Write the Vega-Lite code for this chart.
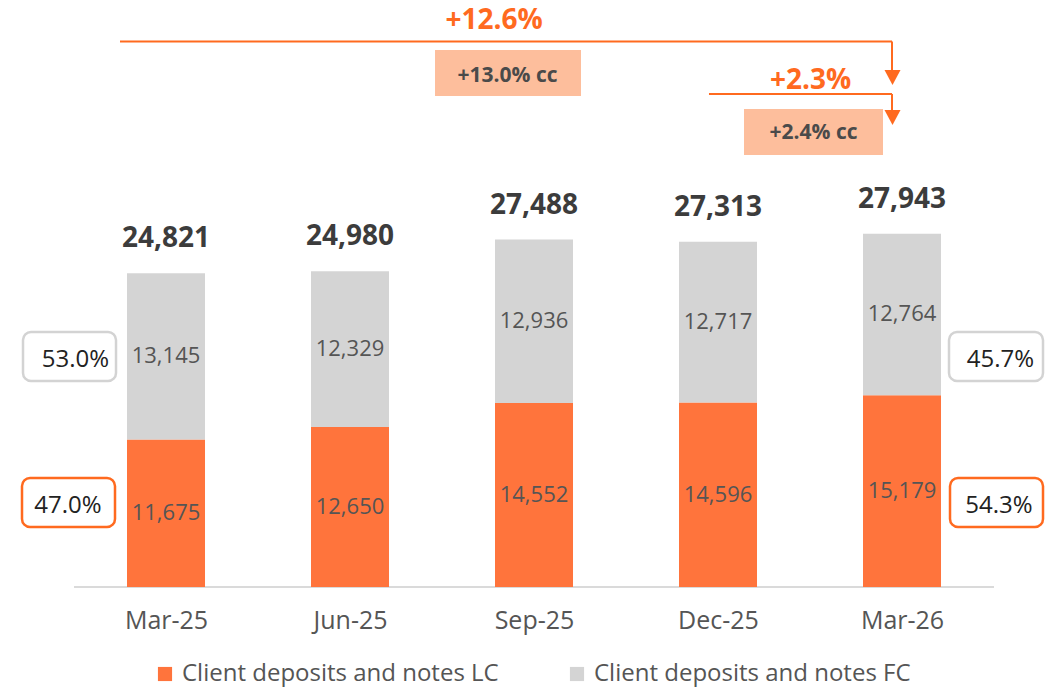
{
  "$schema": "https://vega.github.io/schema/vega-lite/v6.json",
  "width": 1058,
  "height": 587,
  "autosize": {"type": "none"},
  "padding": {"left": 0, "top": 0, "right": 0, "bottom": 101},
  "config": {"view": {"stroke": null}, "font": "Open Sans", "scale": {"continuousPadding": 0}},
  "datasets": {
    "segments": [
      {"idx": 0, "period": "Mar-25", "series": "Client deposits and notes LC", "ord": 1, "value": 11675},
      {"idx": 0, "period": "Mar-25", "series": "Client deposits and notes FC", "ord": 2, "value": 13145},
      {"idx": 1, "period": "Jun-25", "series": "Client deposits and notes LC", "ord": 1, "value": 12650},
      {"idx": 1, "period": "Jun-25", "series": "Client deposits and notes FC", "ord": 2, "value": 12329},
      {"idx": 2, "period": "Sep-25", "series": "Client deposits and notes LC", "ord": 1, "value": 14552},
      {"idx": 2, "period": "Sep-25", "series": "Client deposits and notes FC", "ord": 2, "value": 12936},
      {"idx": 3, "period": "Dec-25", "series": "Client deposits and notes LC", "ord": 1, "value": 14596},
      {"idx": 3, "period": "Dec-25", "series": "Client deposits and notes FC", "ord": 2, "value": 12717},
      {"idx": 4, "period": "Mar-26", "series": "Client deposits and notes LC", "ord": 1, "value": 15179},
      {"idx": 4, "period": "Mar-26", "series": "Client deposits and notes FC", "ord": 2, "value": 12764}
    ],
    "totals": [
      {"idx": 0, "period": "Mar-25", "total": 24821},
      {"idx": 1, "period": "Jun-25", "total": 24980},
      {"idx": 2, "period": "Sep-25", "total": 27488},
      {"idx": 3, "period": "Dec-25", "total": 27313},
      {"idx": 4, "period": "Mar-26", "total": 27943}
    ],
    "baseline": [{"x": -0.5, "x2": 4.5, "y": 0}],
    "arrowLines": [
      {"x": -0.25, "x2": 3.9457, "y": 43157, "y2": 43157},
      {"x": 3.9457, "x2": 3.9457, "y": 43157, "y2": 40823},
      {"x": 2.951, "x2": 3.9457, "y": 39003, "y2": 39003},
      {"x": 3.9457, "x2": 3.9457, "y": 39003, "y2": 37658}
    ],
    "arrowHeads": [
      {"x": 3.9484, "y": 40309},
      {"x": 3.9484, "y": 37144}
    ],
    "ccBoxes": [
      {"x": 1.462, "x2": 2.2554, "y": 42484, "y2": 38845},
      {"x": 3.1413, "x2": 3.8967, "y": 37816, "y2": 34177}
    ],
    "growthText": [
      {"x": 1.7826, "y": 44146, "label": "+12.6%"},
      {"x": 3.5027, "y": 39399, "label": "+2.3%"}
    ],
    "ccText": [
      {"x": 1.856, "y": 39953, "label": "+13.0% cc"},
      {"x": 3.519, "y": 35443, "label": "+2.4% cc"}
    ],
    "shareBoxes": [
      {"series": "FC", "x": -0.7772, "x2": -0.2717, "y": 20174, "y2": 16297},
      {"series": "LC", "x": -0.7826, "x2": -0.2772, "y": 8623, "y2": 4747},
      {"series": "FC", "x": 4.2554, "x2": 4.7663, "y": 20174, "y2": 16297},
      {"series": "LC", "x": 4.2609, "x2": 4.7663, "y": 8623, "y2": 4747}
    ],
    "shareText": [
      {"x": -0.4918, "y": 17405, "label": "53.0%"},
      {"x": -0.5326, "y": 5854, "label": "47.0%"},
      {"x": 4.5353, "y": 17405, "label": "45.7%"},
      {"x": 4.5272, "y": 5854, "label": "54.3%"}
    ]
  },
  "layer": [
    {
      "data": {"name": "baseline"},
      "mark": {"type": "rule", "color": "#DADADA", "strokeWidth": 2},
      "encoding": {
        "x": {"field": "x", "type": "quantitative", "scale": {"domain": [-0.9022, 4.8478], "nice": false, "zero": false, "padding": 0},
          "axis": {"values": [0, 1, 2, 3, 4], "labelExpr": "['Mar-25','Jun-25','Sep-25','Dec-25','Mar-26'][datum.value]", "domain": false, "ticks": false, "grid": false, "title": null, "labelFontSize": 25, "labelColor": "#555555", "labelBaseline": "alphabetic", "labelPadding": 41, "tickSize": 0, "labelFlush": false, "labelOverlap": false}},
        "x2": {"field": "x2"},
        "y": {"field": "y", "type": "quantitative", "scale": {"domain": [0, 46440], "nice": false, "zero": false, "padding": 0}, "axis": null}
      }
    },
    {
      "data": {"name": "segments"},
      "mark": {"type": "bar", "size": 78},
      "encoding": {
        "x": {"field": "idx", "type": "quantitative", "scale": {"domain": [-0.9022, 4.8478], "nice": false, "zero": false, "padding": 0}},
        "y": {"field": "value", "type": "quantitative", "stack": "zero", "scale": {"domain": [0, 46440], "nice": false, "zero": false, "padding": 0}},
        "color": {"field": "series", "type": "nominal",
          "scale": {"domain": ["Client deposits and notes LC", "Client deposits and notes FC"], "range": ["#FF743C", "#D4D4D4"]},
          "legend": {"orient": "none", "legendX": 153, "legendY": 662, "direction": "horizontal", "title": null, "symbolType": "square", "symbolSize": 200, "symbolStrokeWidth": 0, "labelFontSize": 24, "labelColor": "#555555", "labelLimit": 0, "columnPadding": 66, "padding": 0, "labelOffset": 5}},
        "order": {"field": "ord", "type": "quantitative"}
      }
    },
    {
      "data": {"name": "segments"},
      "transform": [
        {"stack": "value", "groupby": ["idx"], "sort": [{"field": "ord"}], "as": ["v0", "v1"]},
        {"calculate": "(datum.v0 + datum.v1) / 2", "as": "mid"}
      ],
      "mark": {"type": "text", "fontSize": 22, "color": "#555555", "baseline": "middle", "align": "center"},
      "encoding": {
        "x": {"field": "idx", "type": "quantitative", "scale": {"domain": [-0.9022, 4.8478], "nice": false, "zero": false, "padding": 0}},
        "y": {"field": "mid", "type": "quantitative", "scale": {"domain": [0, 46440], "nice": false, "zero": false, "padding": 0}},
        "text": {"field": "value", "type": "quantitative", "format": ","}
      }
    },
    {
      "data": {"name": "totals"},
      "mark": {"type": "text", "fontSize": 28, "fontWeight": "bold", "color": "#3C3C3C", "baseline": "alphabetic", "align": "center", "dy": -26},
      "encoding": {
        "x": {"field": "idx", "type": "quantitative", "scale": {"domain": [-0.9022, 4.8478], "nice": false, "zero": false, "padding": 0}},
        "y": {"field": "total", "type": "quantitative", "scale": {"domain": [0, 46440], "nice": false, "zero": false, "padding": 0}},
        "text": {"field": "total", "type": "quantitative", "format": ","}
      }
    },
    {
      "data": {"name": "arrowLines"},
      "mark": {"type": "rule", "color": "#FF6A1F", "strokeWidth": 2},
      "encoding": {
        "x": {"field": "x", "type": "quantitative", "scale": {"domain": [-0.9022, 4.8478], "nice": false, "zero": false, "padding": 0}},
        "x2": {"field": "x2"},
        "y": {"field": "y", "type": "quantitative", "scale": {"domain": [0, 46440], "nice": false, "zero": false, "padding": 0}},
        "y2": {"field": "y2"}
      }
    },
    {
      "data": {"name": "arrowHeads"},
      "mark": {"type": "point", "shape": "M-1,-0.95L1,-0.95L0,0.95Z", "size": 256, "filled": true, "color": "#FF6A1F", "opacity": 1, "strokeWidth": 0},
      "encoding": {
        "x": {"field": "x", "type": "quantitative", "scale": {"domain": [-0.9022, 4.8478], "nice": false, "zero": false, "padding": 0}},
        "y": {"field": "y", "type": "quantitative", "scale": {"domain": [0, 46440], "nice": false, "zero": false, "padding": 0}}
      }
    },
    {
      "data": {"name": "ccBoxes"},
      "mark": {"type": "rect", "color": "#FDBE9C"},
      "encoding": {
        "x": {"field": "x", "type": "quantitative", "scale": {"domain": [-0.9022, 4.8478], "nice": false, "zero": false, "padding": 0}},
        "x2": {"field": "x2"},
        "y": {"field": "y", "type": "quantitative", "scale": {"domain": [0, 46440], "nice": false, "zero": false, "padding": 0}},
        "y2": {"field": "y2"}
      }
    },
    {
      "data": {"name": "growthText"},
      "mark": {"type": "text", "fontSize": 28, "fontWeight": "bold", "color": "#FF6A1F", "baseline": "alphabetic", "align": "center"},
      "encoding": {
        "x": {"field": "x", "type": "quantitative", "scale": {"domain": [-0.9022, 4.8478], "nice": false, "zero": false, "padding": 0}},
        "y": {"field": "y", "type": "quantitative", "scale": {"domain": [0, 46440], "nice": false, "zero": false, "padding": 0}},
        "text": {"field": "label"}
      }
    },
    {
      "data": {"name": "ccText"},
      "mark": {"type": "text", "fontSize": 21, "fontWeight": "bold", "color": "#4A4A4A", "baseline": "alphabetic", "align": "center"},
      "encoding": {
        "x": {"field": "x", "type": "quantitative", "scale": {"domain": [-0.9022, 4.8478], "nice": false, "zero": false, "padding": 0}},
        "y": {"field": "y", "type": "quantitative", "scale": {"domain": [0, 46440], "nice": false, "zero": false, "padding": 0}},
        "text": {"field": "label"}
      }
    },
    {
      "data": {"name": "shareBoxes"},
      "mark": {"type": "rect", "fill": "#FFFFFF", "strokeWidth": 2.5, "cornerRadius": 8},
      "encoding": {
        "x": {"field": "x", "type": "quantitative", "scale": {"domain": [-0.9022, 4.8478], "nice": false, "zero": false, "padding": 0}},
        "x2": {"field": "x2"},
        "y": {"field": "y", "type": "quantitative", "scale": {"domain": [0, 46440], "nice": false, "zero": false, "padding": 0}},
        "y2": {"field": "y2"},
        "stroke": {"condition": {"test": "datum.series === 'LC'", "value": "#FF6A1F"}, "value": "#D3D3D3"}
      }
    },
    {
      "data": {"name": "shareText"},
      "mark": {"type": "text", "fontSize": 24, "color": "#222222", "baseline": "alphabetic", "align": "center"},
      "encoding": {
        "x": {"field": "x", "type": "quantitative", "scale": {"domain": [-0.9022, 4.8478], "nice": false, "zero": false, "padding": 0}},
        "y": {"field": "y", "type": "quantitative", "scale": {"domain": [0, 46440], "nice": false, "zero": false, "padding": 0}},
        "text": {"field": "label"}
      }
    }
  ]
}
